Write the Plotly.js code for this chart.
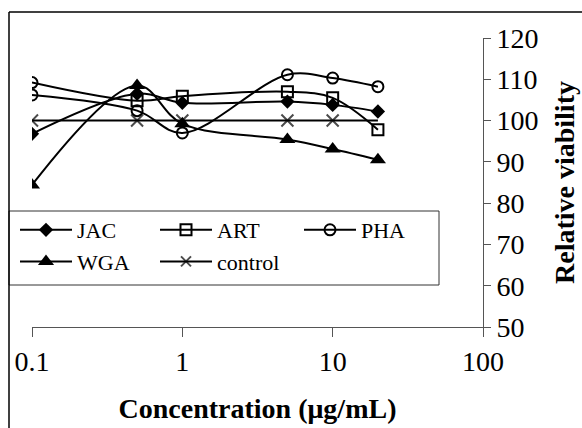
<!DOCTYPE html>
<html>
<head>
<meta charset="utf-8">
<script src="https://cdn.plot.ly/plotly-3.0.1.min.js"></script>
<style>html,body{margin:0;padding:0;background:#fff;}#chart{width:582px;height:428px;}</style>
</head>
<body>
<div id="chart"></div>
<script>
// Data
var concentration = [0.1, 0.5, 1, 5, 10, 20];
var JAC = [96.8, 106.5, 104.3, 104.6, 103.8, 102.2];
var ART = [109.2, 104.8, 105.9, 107.0, 105.5, 97.8];
var PHA = [106.2, 102.4, 97.0, 111.1, 110.3, 108.2];
var WGA = [84.4, 108.5, 99.2, 95.4, 93.1, 90.5];
var control = [100, 100, 100, 100, 100, 100];
var xTickVals = [0.1, 1, 10, 100];
var xTickText = ['0.1', '1', '10', '100'];
var seriesNames = ['JAC', 'ART', 'PHA', 'WGA', 'control'];

var FONT = 'Liberation Serif, Times New Roman, serif';
var lineStyle = {color: '#000', width: 2, shape: 'spline', smoothing: 1};

// ART: first point is drawn with a round marker in the reference; the trace is
// listed from the last point so the legend shows the square symbol.
var artSymbols = ['circle-open', 'square-open', 'square-open', 'square-open', 'square-open', 'square-open'];

var traces = [
  {x: concentration, y: JAC, name: seriesNames[0], legend: 'legend', mode: 'lines+markers', line: lineStyle,
   marker: {symbol: 'diamond', size: 11, color: '#000'}},
  {x: concentration.slice().reverse(), y: ART.slice().reverse(), name: seriesNames[1], legend: 'legend2', mode: 'lines+markers', line: lineStyle,
   marker: {symbol: artSymbols.slice().reverse(), size: 11, color: '#000', line: {width: 2, color: '#000'}}},
  {x: concentration, y: PHA, name: seriesNames[2], legend: 'legend3', mode: 'lines+markers', line: lineStyle,
   marker: {symbol: 'circle-open', size: 11, color: '#000', line: {width: 2, color: '#000'}}},
  {x: concentration, y: WGA, name: seriesNames[3], legend: 'legend', mode: 'lines+markers', line: lineStyle,
   marker: {symbol: 'triangle-up', size: 14, color: '#000'}},
  {x: concentration, y: control, name: seriesNames[4], legend: 'legend2', mode: 'lines+markers', line: lineStyle,
   marker: {symbol: 'x-thin', size: [12, 12, 12, 12, 12, 0], color: '#000', line: {width: 2, color: '#000'}}}
];

// pixel helpers for paper coordinates (plot area 32..483 x, 38..327 y)
var L = 32, R = 483, T = 38, B = 327;
function px(x) { return (x - L) / (R - L); }
function py(y) { return (B - y) / (B - T); }

function legendAt(left) {
  return {
    orientation: 'v', x: px(left), xanchor: 'left', y: py(209), yanchor: 'top',
    bgcolor: 'rgba(0,0,0,0)', borderwidth: 0,
    font: {family: FONT, size: 22, color: '#000'},
    itemwidth: 52, tracegroupgap: 0, traceorder: 'normal'
  };
}

var layout = {
  width: 582, height: 428,
  margin: {l: L, r: 582 - R, t: T, b: 428 - B, autoexpand: false},
  paper_bgcolor: '#fff', plot_bgcolor: '#fff',
  font: {family: FONT, color: '#000', size: 24},
  showlegend: true,
  xaxis: {
    type: 'log', range: [-1, 2],
    tickvals: xTickVals, ticktext: xTickText,
    showline: true, linecolor: '#555', linewidth: 1,
    ticks: 'outside', ticklen: 9, tickcolor: '#555', tickwidth: 1,
    showgrid: false, zeroline: false,
    tickfont: {family: FONT, size: 28, color: '#000'},
    title: {text: 'Concentration (μg/mL)', font: {family: FONT, size: 28, weight: 'bold', color: '#000'}, standoff: 22}
  },
  yaxis: {
    side: 'right', range: [50, 120], dtick: 10,
    showline: true, linecolor: '#555', linewidth: 1,
    ticks: 'outside', ticklen: 7, tickcolor: '#555', tickwidth: 1,
    showgrid: false, zeroline: false,
    tickfont: {family: FONT, size: 28, color: '#000'},
    title: {text: 'Relative viability', font: {family: FONT, size: 28, weight: 'bold', color: '#000'}, standoff: 16}
  },
  legend: legendAt(15),
  legend2: legendAt(155),
  legend3: legendAt(299),
  shapes: [
    {type: 'rect', xref: 'paper', yref: 'paper', x0: px(9), x1: px(439), y0: py(285), y1: py(211),
     line: {color: '#333', width: 1}, layer: 'below'},
    {type: 'line', xref: 'paper', yref: 'paper', x0: px(9), x1: px(9), y0: py(428), y1: py(12),
     line: {color: '#000', width: 1.5}},
    {type: 'line', xref: 'paper', yref: 'paper', x0: px(9), x1: px(582), y0: py(12), y1: py(12),
     line: {color: '#000', width: 1.5}}
  ]
};

Plotly.newPlot('chart', traces, layout, {staticPlot: true, displayModeBar: false});
</script>
</body>
</html>
